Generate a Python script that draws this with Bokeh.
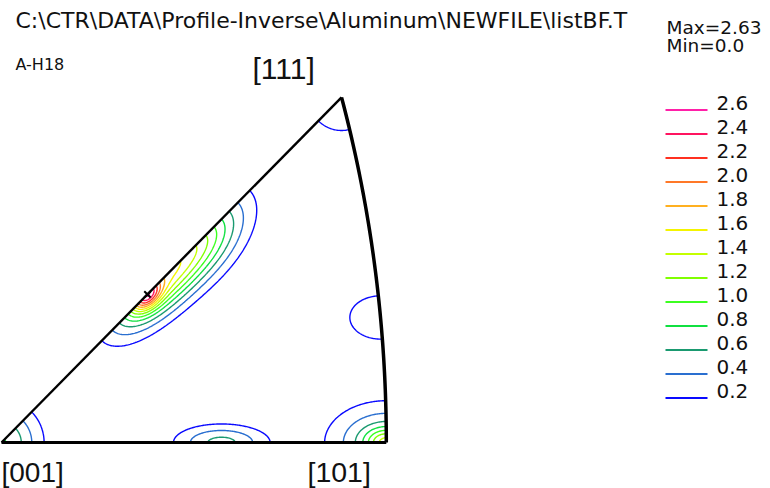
import numpy as np
import contourpy
from bokeh.plotting import figure
from bokeh.models import Range1d, Label
from bokeh.embed import file_html
from bokeh.resources import INLINE

# ---- chart content -------------------------------------------------------
title_text = "C:\\CTR\\DATA\\Profile-Inverse\\Aluminum\\NEWFILE\\listBF.T"
sample_name = "A-H18"
max_value = 2.63
min_value = 0.0

levels = [0.2, 0.4, 0.6, 0.8, 1.0, 1.2, 1.4, 1.6, 1.8, 2.0, 2.2, 2.4, 2.6]
level_labels = ["0.2", "0.4", "0.6", "0.8", "1.0", "1.2", "1.4",
                "1.6", "1.8", "2.0", "2.2", "2.4", "2.6"]
level_colors = ["#0a0aff", "#2a6fd0", "#1a9a70", "#10e040", "#3cff20",
                "#80ff00", "#c4ff00", "#f4f400", "#ffb020", "#ff7828",
                "#ff3020", "#ff1460", "#ff20a8"]

# Texture components of the inverse pole figure density, stereographic
# coordinates (u, v); widths along / across the component axis.
comp_u = [0.0000, 0.2368, 0.4142, 0.4142, 0.3660, 0.4080, 0.1556, 0.1624, 0.2115]
comp_v = [0.0000, 0.0000, 0.0000, 0.0000, 0.3660, 0.1326, 0.1556, 0.1624, 0.2115]
comp_amp = [0.81, 0.66, 0.75, 0.75, 0.28, 0.30, 1.20, 1.25, 1.08]
comp_sig_a = [0.0274, 0.0334, 0.0150, 0.0406, 0.0427, 0.0366, 0.0130, 0.0400, 0.0427]
comp_sig_b = [0.0274, 0.0127, 0.0100, 0.0272, 0.0427, 0.0254, 0.0085, 0.0190, 0.0230]
comp_angle = [0, 0, 0, 0, 0, 0, 45, 45, 45]

# ---- page geometry -------------------------------------------------------
W, H = 770, 488
SX, SY = 929.0, 943.0        # pixels per stereographic unit
X0, Y0 = 1.0, 442.0          # pixel position of [001]


def to_u(px):
    return (px - X0) / SX


def to_v(py):
    return (Y0 - py) / SY


U101 = np.sqrt(2.0) - 1.0
C111 = (np.sqrt(3.0) - 1.0) / 2.0

# ---- density field -------------------------------------------------------
gu = np.arange(-0.02, 0.43, 0.0011)
gv = np.arange(-0.02, 0.39, 0.0011)
GU, GV = np.meshgrid(gu, gv)
field = np.zeros_like(GU)
for u0, v0, a0, sa, sb, ang in zip(comp_u, comp_v, comp_amp,
                                   comp_sig_a, comp_sig_b, comp_angle):
    th = np.radians(ang)
    du, dv = GU - u0, GV - v0
    a = du * np.cos(th) + dv * np.sin(th)
    b = -du * np.sin(th) + dv * np.cos(th)
    field += a0 * np.exp(-0.5 * ((a / sa) ** 2 + (b / sb) ** 2))


def inside(u, v, tol=0.0):
    return (v >= -tol) & (v <= u + tol) & ((u + 1.0) ** 2 + v ** 2 <= 2.0 + tol)


mask_in = inside(GU, GV)
field *= max_value / field[mask_in].max()
imax = np.argmax(np.where(mask_in, field, -1.0))
peak_u, peak_v = GU.flat[imax], GV.flat[imax]

gen = contourpy.contour_generator(GU, GV, field,
                                  line_type=contourpy.LineType.Separate)

# ---- figure --------------------------------------------------------------
p = figure(width=W, height=H, output_backend="svg", toolbar_location=None,
           x_range=Range1d(to_u(0), to_u(W)), y_range=Range1d(to_v(H), to_v(0)),
           x_axis_type=None, y_axis_type=None, min_border=0,
           outline_line_color=None, background_fill_color="white",
           border_fill_color="white")
p.grid.visible = False

for lev, col in zip(levels, level_colors):
    xs, ys = [], []
    for seg in gen.lines(lev):
        ok = inside(seg[:, 0], seg[:, 1], 0.0006)
        start = None
        for i, flag in enumerate(list(ok) + [False]):
            if flag and start is None:
                start = i
            elif not flag and start is not None:
                if i - start > 1:
                    xs.append(seg[start:i, 0].tolist())
                    ys.append(seg[start:i, 1].tolist())
                start = None
    if xs:
        p.multi_line(xs, ys, line_color=col, line_width=1.4)

# standard triangle
p.line([0, U101], [0, 0], line_color="black", line_width=3)
p.line([0, C111], [0, C111], line_color="black", line_width=2.4)
th = np.linspace(0, np.arctan2(C111, 1 + C111), 60)
p.line(-1 + np.sqrt(2) * np.cos(th), np.sqrt(2) * np.sin(th),
       line_color="black", line_width=3.5)

# maximum marker
p.scatter([peak_u], [peak_v], marker="x", size=9, line_color="black",
          line_width=2)


def label(text, x, baseline, size, font="DejaVu Sans"):
    # the label box is anchored a little above the glyph baseline
    y = H - baseline + 0.4 * size
    p.add_layout(Label(x=x, y=y, x_units="screen", y_units="screen",
                       text=text, text_font=font, text_font_size=f"{size}px",
                       text_color="#111111", text_baseline="alphabetic",
                       text_align="left"))


label(title_text, 15, 29, 22)
label(sample_name, 15, 70, 16)
label("[111]", 252, 80, 30, "Liberation Sans")
label("[001]", 1, 483, 28, "Liberation Sans")
label("[101]", 307, 483, 28.5, "Liberation Sans")
label(f"Max={max_value:.2f}", 666, 34, 18.5)
label(f"Min={min_value:.1f}", 666, 52, 18.5)

# legend of contour levels, highest at top
for i, (lab, col) in enumerate(zip(level_labels[::-1], level_colors[::-1])):
    ly = 109.5 + 24 * i
    p.segment(x0=[to_u(665)], y0=[to_v(ly)], x1=[to_u(707)], y1=[to_v(ly)],
              line_color=col, line_width=2)
    label(lab, 716, ly + 1, 20)

open("out.html", "w").write(file_html(p, INLINE))
